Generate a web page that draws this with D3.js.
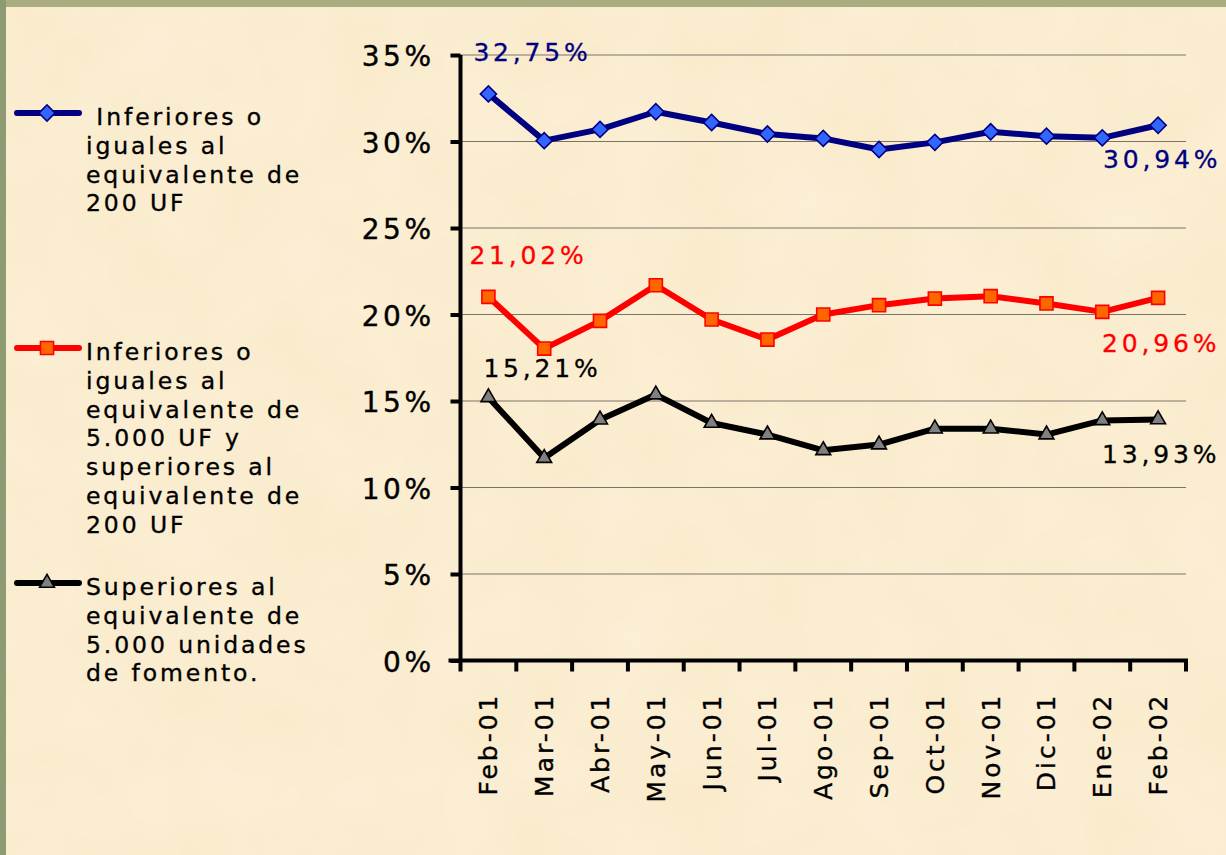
<!DOCTYPE html>
<html>
<head>
<meta charset="utf-8">
<script src="https://cdn.jsdelivr.net/npm/d3@7"></script>
<style>
  html, body { margin: 0; padding: 0; background: #FAEBCC; }
  svg { display: block; }
  text { font-family: "DejaVu Sans", Verdana, sans-serif; }
</style>
</head>
<body>
<svg id="chart" width="1226" height="855"></svg>
<script>
// ---------- data ----------
const categories = ["Feb-01","Mar-01","Abr-01","May-01","Jun-01","Jul-01","Ago-01","Sep-01","Oct-01","Nov-01","Dic-01","Ene-02","Feb-02"];
const seriesSmall  = [32.75, 30.05, 30.70, 31.72, 31.10, 30.43, 30.18, 29.54, 29.95, 30.56, 30.31, 30.21, 30.94];
const seriesMedium = [21.02, 18.03, 19.63, 21.69, 19.71, 18.55, 20.00, 20.54, 20.92, 21.06, 20.64, 20.15, 20.96];
const seriesLarge  = [15.21, 11.70, 13.92, 15.37, 13.73, 13.06, 12.15, 12.48, 13.40, 13.40, 13.06, 13.88, 13.93];
const yTicks = [0, 5, 10, 15, 20, 25, 30, 35];
const legendSmall  = [" Inferiores o", "iguales al", "equivalente de", "200 UF"];
const legendMedium = ["Inferiores o", "iguales al", "equivalente de", "5.000 UF y", "superiores al", "equivalente de", "200 UF"];
const legendLarge  = ["Superiores al", "equivalente de", "5.000 unidades", "de fomento."];
// labelled points: [series index, category index]
const labelledPoints = [[0, 0], [0, 12], [1, 0], [1, 12], [2, 0], [2, 12]];

// ---------- setup ----------
const svg = d3.select("#chart");
const W = 1226, H = 855;

// background + frame
svg.append("rect").attr("width", W).attr("height", H).attr("fill", "#FAEBCC");
const defs = svg.append("defs");
const f = defs.append("filter").attr("id", "paper").attr("x", 0).attr("y", 0).attr("width", "100%").attr("height", "100%");
f.append("feTurbulence").attr("type", "fractalNoise").attr("baseFrequency", "0.012").attr("numOctaves", 3).attr("seed", 4).attr("result", "n");
f.append("feColorMatrix").attr("in", "n").attr("type", "matrix")
  .attr("values", "0 0 0 0 1  0 0 0 0 0.97  0 0 0 0 0.9  0 0 0 0.35 -0.08");
svg.append("rect").attr("width", W).attr("height", H).attr("filter", "url(#paper)");
svg.append("rect").attr("x", 0).attr("y", 0).attr("width", W).attr("height", 7).attr("fill", "#A9AD80");
svg.append("rect").attr("x", 0).attr("y", 0).attr("width", 6).attr("height", H).attr("fill", "#8E9A72");

const x = d3.scaleBand().domain(categories).range([460.5, 1186]).padding(0);
const y = d3.scaleLinear().domain([0, 35]).range([660.5, 55]);

// gridlines
svg.append("g").selectAll("line").data(yTicks.filter(d => d > 0)).join("line")
  .attr("x1", x.range()[0]).attr("x2", x.range()[1])
  .attr("y1", d => y(d)).attr("y2", d => y(d))
  .attr("stroke", "#7a7468").attr("stroke-width", 1.2);

// y axis
const yAxis = svg.append("g").attr("transform", `translate(${x.range()[0]},0)`)
  .call(d3.axisLeft(y).tickValues(yTicks).tickSize(10).tickPadding(16).tickFormat(d => d + "%"));
yAxis.select(".domain").attr("stroke", "#000").attr("stroke-width", 4).attr("d", `M0,${y(35)}V${y(0)}`);
yAxis.selectAll(".tick line").attr("stroke", "#000").attr("stroke-width", 4);
yAxis.selectAll(".tick text")
  .attr("font-family", "'DejaVu Sans', Verdana, sans-serif")
  .attr("font-size", 28).attr("fill", "#000")
  .attr("stroke", "#000").attr("stroke-width", 0.4)
  .attr("letter-spacing", "3.5px")
  .attr("dy", "0.38em");

// x axis (ticks at band boundaries)
const xg = svg.append("g");
xg.append("line").attr("x1", x.range()[0] - 12).attr("x2", x.range()[1] + 2)
  .attr("y1", y(0)).attr("y2", y(0)).attr("stroke", "#000").attr("stroke-width", 4);
const bounds = categories.map(c => x(c)).concat([x.range()[1]]);
xg.selectAll("line.tk").data(bounds).join("line").attr("class", "tk")
  .attr("x1", d => d).attr("x2", d => d)
  .attr("y1", y(0)).attr("y2", y(0) + 11)
  .attr("stroke", "#000").attr("stroke-width", 4);
xg.selectAll("text").data(categories).join("text")
  .attr("transform", d => `translate(${x(d) + x.bandwidth() / 2},${y(0) + 32}) rotate(-90)`)
  .attr("text-anchor", "end").attr("dy", "0.36em")
  .attr("font-size", 25).attr("letter-spacing", "3px").attr("fill", "#000")
  .attr("stroke", "#000").attr("stroke-width", 0.35)
  .text(d => d);

// series
const series = [
  { values: seriesSmall,  line: "#000080", fill: "#3366FF", stroke: "#000080", shape: "diamond", label: "#000080" },
  { values: seriesMedium, line: "#FF0000", fill: "#FF6600", stroke: "#FF0000", shape: "square",  label: "#FF0000" },
  { values: seriesLarge,  line: "#000000", fill: "#808080", stroke: "#000000", shape: "triangle", label: "#000000" }
];
const symbolPath = {
  diamond: d3.symbol(d3.symbolSquare, 130)(),
  square: d3.symbol(d3.symbolSquare, 170)(),
  triangle: d3.symbol(d3.symbolTriangle, 95)()
};
const symbolRot = { diamond: 45, square: 0, triangle: 0 };
const line = d3.line().x((d, i) => x(categories[i]) + x.bandwidth() / 2).y(d => y(d));

series.forEach(s => {
  svg.append("path").datum(s.values).attr("d", line)
    .attr("fill", "none").attr("stroke", s.line).attr("stroke-width", 6).attr("stroke-linejoin", "round");
  svg.append("g").selectAll("path").data(s.values).join("path")
    .attr("d", symbolPath[s.shape])
    .attr("transform", (d, i) => `translate(${x(categories[i]) + x.bandwidth() / 2},${y(d)}) rotate(${symbolRot[s.shape]})`)
    .attr("fill", s.fill).attr("stroke", s.stroke).attr("stroke-width", 1.6);
});

// data labels
const loc = d3.formatLocale({ decimal: ",", thousands: ".", grouping: [3], currency: ["$", ""] });
const fmt = loc.format(".2f");
const labelOffset = {
  "0-0": [-15, -33], "0-12": [-55, 43],
  "1-0": [-19, -33], "1-12": [-56, 54],
  "2-0": [-5, -20], "2-12": [-56, 43]
};
svg.append("g").selectAll("text").data(labelledPoints).join("text")
  .attr("x", d => x(categories[d[1]]) + x.bandwidth() / 2 + labelOffset[d[0] + "-" + d[1]][0])
  .attr("y", d => y(series[d[0]].values[d[1]]) + labelOffset[d[0] + "-" + d[1]][1])
  .attr("font-size", 25).attr("letter-spacing", "3.8px")
  .attr("fill", d => series[d[0]].label)
  .attr("stroke", d => series[d[0]].label).attr("stroke-width", 0.3)
  .text(d => fmt(series[d[0]].values[d[1]]) + "%");

// legend
const legends = [
  { lines: legendSmall, s: series[0], ly: 113, ty: 125 },
  { lines: legendMedium, s: series[1], ly: 348, ty: 360 },
  { lines: legendLarge, s: series[2], ly: 583, ty: 595 }
];
legends.forEach(L => {
  const g = svg.append("g");
  g.append("line").attr("x1", 17).attr("x2", 79).attr("y1", L.ly).attr("y2", L.ly)
    .attr("stroke", L.s.line).attr("stroke-width", 6).attr("stroke-linecap", "round");
  g.append("path").attr("d", symbolPath[L.s.shape])
    .attr("transform", `translate(47,${L.ly}) rotate(${symbolRot[L.s.shape]})`)
    .attr("fill", L.s.fill).attr("stroke", L.s.stroke).attr("stroke-width", 1.6);
  const t = g.append("text").attr("x", 86).attr("y", L.ty)
    .attr("font-size", 23.5).attr("letter-spacing", "2.9px").attr("fill", "#000")
    .attr("stroke", "#000").attr("stroke-width", 0.35)
    .attr("xml:space", "preserve").style("white-space", "pre");
  t.selectAll("tspan").data(L.lines).join("tspan")
    .attr("x", 86).attr("dy", (d, i) => i === 0 ? 0 : 28.8).text(d => d);
});
</script>
</body>
</html>
